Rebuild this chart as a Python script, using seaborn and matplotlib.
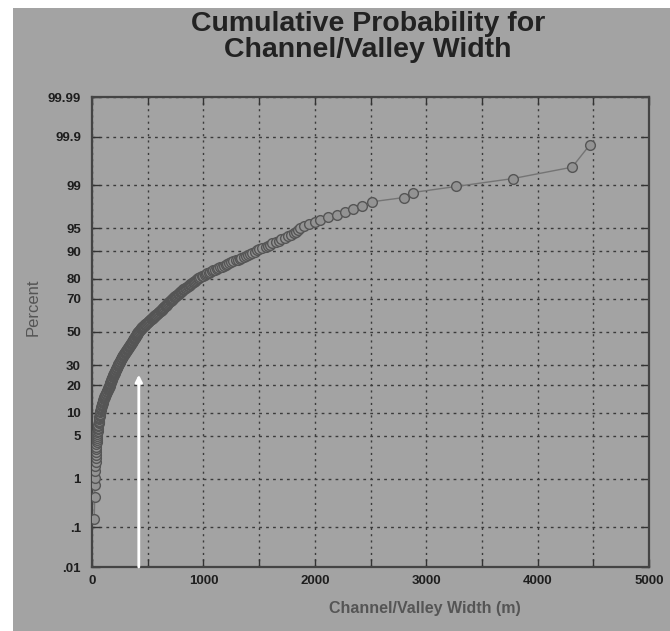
import numpy as np
import matplotlib
matplotlib.use("Agg")
import matplotlib.pyplot as plt
from matplotlib.patches import Rectangle
import seaborn as sns
from statistics import NormalDist

# ---- data (sorted channel/valley widths, m) ----
widths = [
    20, 24, 26, 28,
    30, 31, 33,
    34, 35, 36, 38, 39, 40, 41, 43, 44, 45,
    47, 48, 50, 52, 54, 55, 57, 59, 60, 62, 63, 65, 66, 68, 70, 71,
    74, 76, 78, 80, 82, 84, 86, 88, 91, 93, 95, 98, 100, 102, 105, 107, 110,
    113, 116, 119, 122, 125, 128, 131, 134, 137, 140, 143, 146, 149, 152, 155, 158,
    160, 162, 164, 166, 168, 170, 172, 174, 176, 178, 180, 182, 185, 187, 189, 192, 195,
    197, 199, 202, 204, 207, 209, 212, 214, 217, 219, 222, 224, 226, 228, 230, 232,
    235, 237, 240, 242, 245, 247, 250, 252, 255, 257, 260, 262, 265, 267, 270, 272, 275,
    278, 281, 284, 287, 290, 293, 296, 299, 302, 305, 308, 311, 314, 317, 319, 321,
    326, 329, 332, 335, 338, 341, 344, 347, 350, 353, 356, 359, 362, 365, 367, 369, 372,
    375, 378, 380, 383, 385, 388, 390, 393, 395, 398, 400, 403, 405, 408, 410, 412,
    416, 420, 424, 428, 432, 436, 440, 444, 448, 452, 456, 460, 464, 468, 472, 476, 480,
    485, 490, 495, 500, 505, 510, 515, 520, 525, 530, 535, 540, 545, 550, 555, 560,
    565, 570, 575, 580, 585, 590, 595, 600, 605, 610, 615, 620, 625, 630, 634, 637, 640,
    645, 650, 655, 660, 665, 670, 675, 680, 685, 690, 695, 700, 705, 710, 715, 720,
    725, 731, 737, 743, 749, 755, 761, 767, 773, 779, 785, 791, 797, 803, 809, 815, 821,
    828, 836, 844, 852, 860, 868, 876, 884, 892, 900, 908, 915, 922, 929, 935, 940,
    948, 960, 972, 985, 998, 1010, 1022, 1035, 1048, 1060, 1075, 1090, 1105, 1120, 1135, 1150, 1170,
    1185, 1200, 1215, 1230, 1250, 1270, 1290, 1310, 1325, 1340, 1360, 1380, 1400, 1420, 1440, 1465,
    1480, 1500, 1530, 1560, 1580, 1600, 1620, 1650, 1680, 1700,
    1730, 1760, 1790, 1810, 1830, 1850, 1870,
    1900, 1950, 2000, 2050, 2120, 2200, 2270, 2340, 2420,
    2510, 2800, 2880, 3270, 3780, 4310, 4470,
]
y_ticks = [0.01, 0.1, 1, 5, 10, 20, 30, 50, 70, 80, 90, 95, 99, 99.9, 99.99]
y_ticklabels = [".01", ".1", "1", "5", "10", "20", "30", "50", "70", "80", "90", "95", "99", "99.9", "99.99"]
x_ticks = [0, 1000, 2000, 3000, 4000, 5000]
x_minor = [500, 1500, 2500, 3500, 4500]
arrow_width = 420
arrow_pct = 25

n = len(widths)
percent = [(i + 0.5) / n * 100 for i in range(n)]

# ---- normal probability scale ----
_nd = NormalDist()
_ppf = np.vectorize(_nd.inv_cdf, otypes=[float])
_cdf = np.vectorize(_nd.cdf, otypes=[float])

def fwd(p):
    p = np.clip(np.asarray(p, dtype=float) / 100.0, 1e-12, 1 - 1e-12)
    return _ppf(p)

def inv(z):
    return _cdf(np.asarray(z, dtype=float)) * 100.0

sns.set_style("ticks")
plt.rcParams["font.family"] = ["Liberation Sans", "DejaVu Sans"]

W, H = 670, 631
fig = plt.figure(figsize=(W / 100, H / 100), dpi=100)
fig.patch.set_facecolor("white")
BG = "#a3a3a3"
fig.patches.append(Rectangle((13 / W, 0), (W - 13) / W, (H - 8) / H,
                             transform=fig.transFigure, facecolor=BG,
                             edgecolor="none", zorder=-10))

L, R, T, B = 92, 649, 97, 567
ax = fig.add_axes([L / W, 1 - B / H, (R - L) / W, (B - T) / H])
ax.set_facecolor(BG)

sns.lineplot(x=widths, y=percent, ax=ax, sort=False, estimator=None,
             color="#747474", lw=1.0, marker="o", markersize=7,
             markerfacecolor="#939393", markeredgecolor="#555555",
             markeredgewidth=1.0, zorder=3)

ax.set_yscale("function", functions=(fwd, inv))
ax.set_ylim(0.01, 99.99)
ax.set_xlim(0, 5000)

ax.set_yticks(y_ticks)
ax.set_yticklabels(y_ticklabels)
ax.yaxis.set_minor_locator(matplotlib.ticker.NullLocator())
ax.set_xticks(x_ticks)
ax.set_xticklabels([str(v) for v in x_ticks])
ax.set_xticks(x_minor, minor=True)

ax.grid(True, axis="y", which="major", color="#3a3a3a", lw=1.0, ls=(0, (2, 3)))
ax.grid(True, axis="x", which="both", color="#3a3a3a", lw=1.0, ls=(0, (1.5, 3)))

ax.tick_params(axis="both", which="both", direction="in", length=6, width=1,
               color="#333333", top=True, right=True)
ax.tick_params(axis="y", labelsize=9.5, labelcolor="#1e1e1e", pad=8)
ax.tick_params(axis="x", labelsize=9.5, labelcolor="#1e1e1e", pad=6)
for lab in ax.get_xticklabels() + ax.get_yticklabels():
    lab.set_fontweight("bold")

for s in ax.spines.values():
    s.set_color("#444444")
    s.set_linewidth(1.6)
    s.set_visible(True)

ax.set_xlabel("")
ax.set_ylabel("")

ax.annotate("", xy=(arrow_width, arrow_pct), xytext=(arrow_width, 0.01),
            arrowprops=dict(arrowstyle="-|>", color="white", lw=2,
                            mutation_scale=10, shrinkA=0, shrinkB=0),
            zorder=4)

fig.text(368 / W, 1 - 37 / H, "Cumulative Probability for\nChannel/Valley Width",
         ha="center", va="center", fontsize=20.5, fontweight="bold",
         color="#222222", linespacing=1.0)
fig.text(425 / W, 1 - 608 / H, "Channel/Valley Width (m)", ha="center",
         va="center", fontsize=11.5, fontweight="bold", color="#555555")
fig.text(33 / W, 1 - 307 / H, "Percent", rotation=90, ha="center",
         va="center", fontsize=12, color="#555555")

fig.savefig("out.png", dpi=100, facecolor=fig.get_facecolor())
